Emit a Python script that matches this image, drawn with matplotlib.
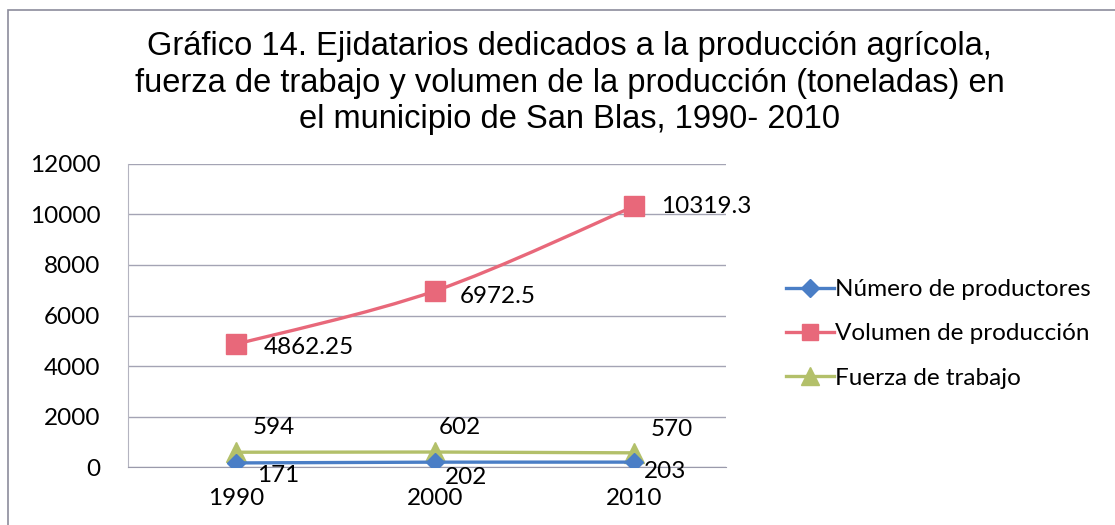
import matplotlib.pyplot as plt
import numpy as np
from matplotlib.lines import Line2D
from matplotlib.patches import PathPatch, Rectangle
from matplotlib.path import Path

years = ['1990', '2000', '2010']
productores = [171, 202, 203]
volumen = [4862.25, 6972.5, 10319.3]
fuerza = [594, 602, 570]

vol_labels = ['4862.25', '6972.5', '10319.3']

title = ('Gráfico 14. Ejidatarios dedicados a la producción agrícola,\n'
         'fuerza de trabajo y volumen de la producción (toneladas) en\n'
         'el municipio de San Blas, 1990- 2010')

blue = '#4a7ec6'
red = '#e8687a'
green = '#b3c06a'
label_font = 'Lato'
fs = 17.5

# label offsets in points (layout only)
prod_off = [(15, -9), (7, -11), (7, -7)]
fuerza_off = [(12, 18), (3, 18), (12, 17)]
vol_off = [(20, -2), (18, -4), (19, 0)]


def smooth_path(xs, ys):
    # Excel-style smoothed line: bezier segments with catmull-rom control points
    pts = np.column_stack([xs, ys]).astype(float)
    verts = [pts[0]]
    codes = [Path.MOVETO]
    n = len(pts)
    for i in range(n - 1):
        p0 = pts[max(i - 1, 0)]
        p1 = pts[i]
        p2 = pts[i + 1]
        p3 = pts[min(i + 2, n - 1)]
        c1 = p1 + (p2 - p0) / 6
        c2 = p2 - (p3 - p1) / 6
        verts += [c1, c2, p2]
        codes += [Path.CURVE4] * 3
    return Path(verts, codes)


fig = plt.figure(figsize=(11.15, 5.25), dpi=100)
ax = fig.add_axes([0.115, 0.11, 0.536, 0.578])

x = np.arange(len(years))

ax.plot(x, productores, color=blue, lw=2.4, marker='D', ms=9, zorder=4)
ax.plot(x, fuerza, color=green, lw=2.4, marker='^', ms=15, zorder=3)
ax.add_patch(PathPatch(smooth_path(x, volumen), fill=False, edgecolor=red,
                       lw=2.4, zorder=3))
ax.plot(x, volumen, ls='none', color=red, marker='s', ms=15, zorder=5)

for xi, v, off in zip(x, productores, prod_off):
    ax.annotate(str(v), (xi, v), xytext=off, textcoords='offset points',
                ha='left', va='center', fontsize=fs, family=label_font)
for xi, v, off in zip(x, fuerza, fuerza_off):
    ax.annotate(str(v), (xi, v), xytext=off, textcoords='offset points',
                ha='left', va='center', fontsize=fs, family=label_font)
for xi, v, s, off in zip(x, volumen, vol_labels, vol_off):
    ax.annotate(s, (xi, v), xytext=off, textcoords='offset points',
                ha='left', va='center', fontsize=fs, family=label_font)

ax.set_xlim(-0.54, 2.46)
ax.set_ylim(0, 12000)
ax.set_yticks(range(0, 12001, 2000))
ax.set_xticks(x)
ax.set_xticklabels(years)
ax.grid(axis='y', color='#a4a4b4', lw=1)
ax.set_axisbelow(True)
for side in ['top', 'right']:
    ax.spines[side].set_visible(False)
ax.spines['left'].set_color('#b4b4c0')
ax.spines['bottom'].set_color('#9a9aab')
ax.tick_params(length=0, labelsize=fs)
ax.tick_params(axis='x', pad=15)
ax.tick_params(axis='y', pad=20)
for lbl in ax.get_xticklabels() + ax.get_yticklabels():
    lbl.set_family(label_font)

handles = [
    Line2D([], [], color=blue, lw=2.4, marker='D', ms=9),
    Line2D([], [], color=red, lw=2.4, marker='s', ms=12),
    Line2D([], [], color=green, lw=2.4, marker='^', ms=13),
]
names = ['Número de productores', 'Volumen de producción', 'Fuerza de trabajo']
fig.legend(handles, names, loc='center left', bbox_to_anchor=(0.685, 0.364),
           frameon=False, prop={'family': label_font, 'size': fs},
           handlelength=2.0, handletextpad=0.05, labelspacing=0.95)

fig.text(0.511, 0.94, title, ha='center', va='top', fontsize=23.5,
         family='Liberation Sans', linespacing=1.22)

fig.patches.append(Rectangle((8 / 1115, -0.05), 1.2, 1 - 10 / 525 + 0.05,
                             transform=fig.transFigure, fill=False,
                             edgecolor='#8c8c9c', lw=1.2))

fig.savefig('out.png', dpi=100)
